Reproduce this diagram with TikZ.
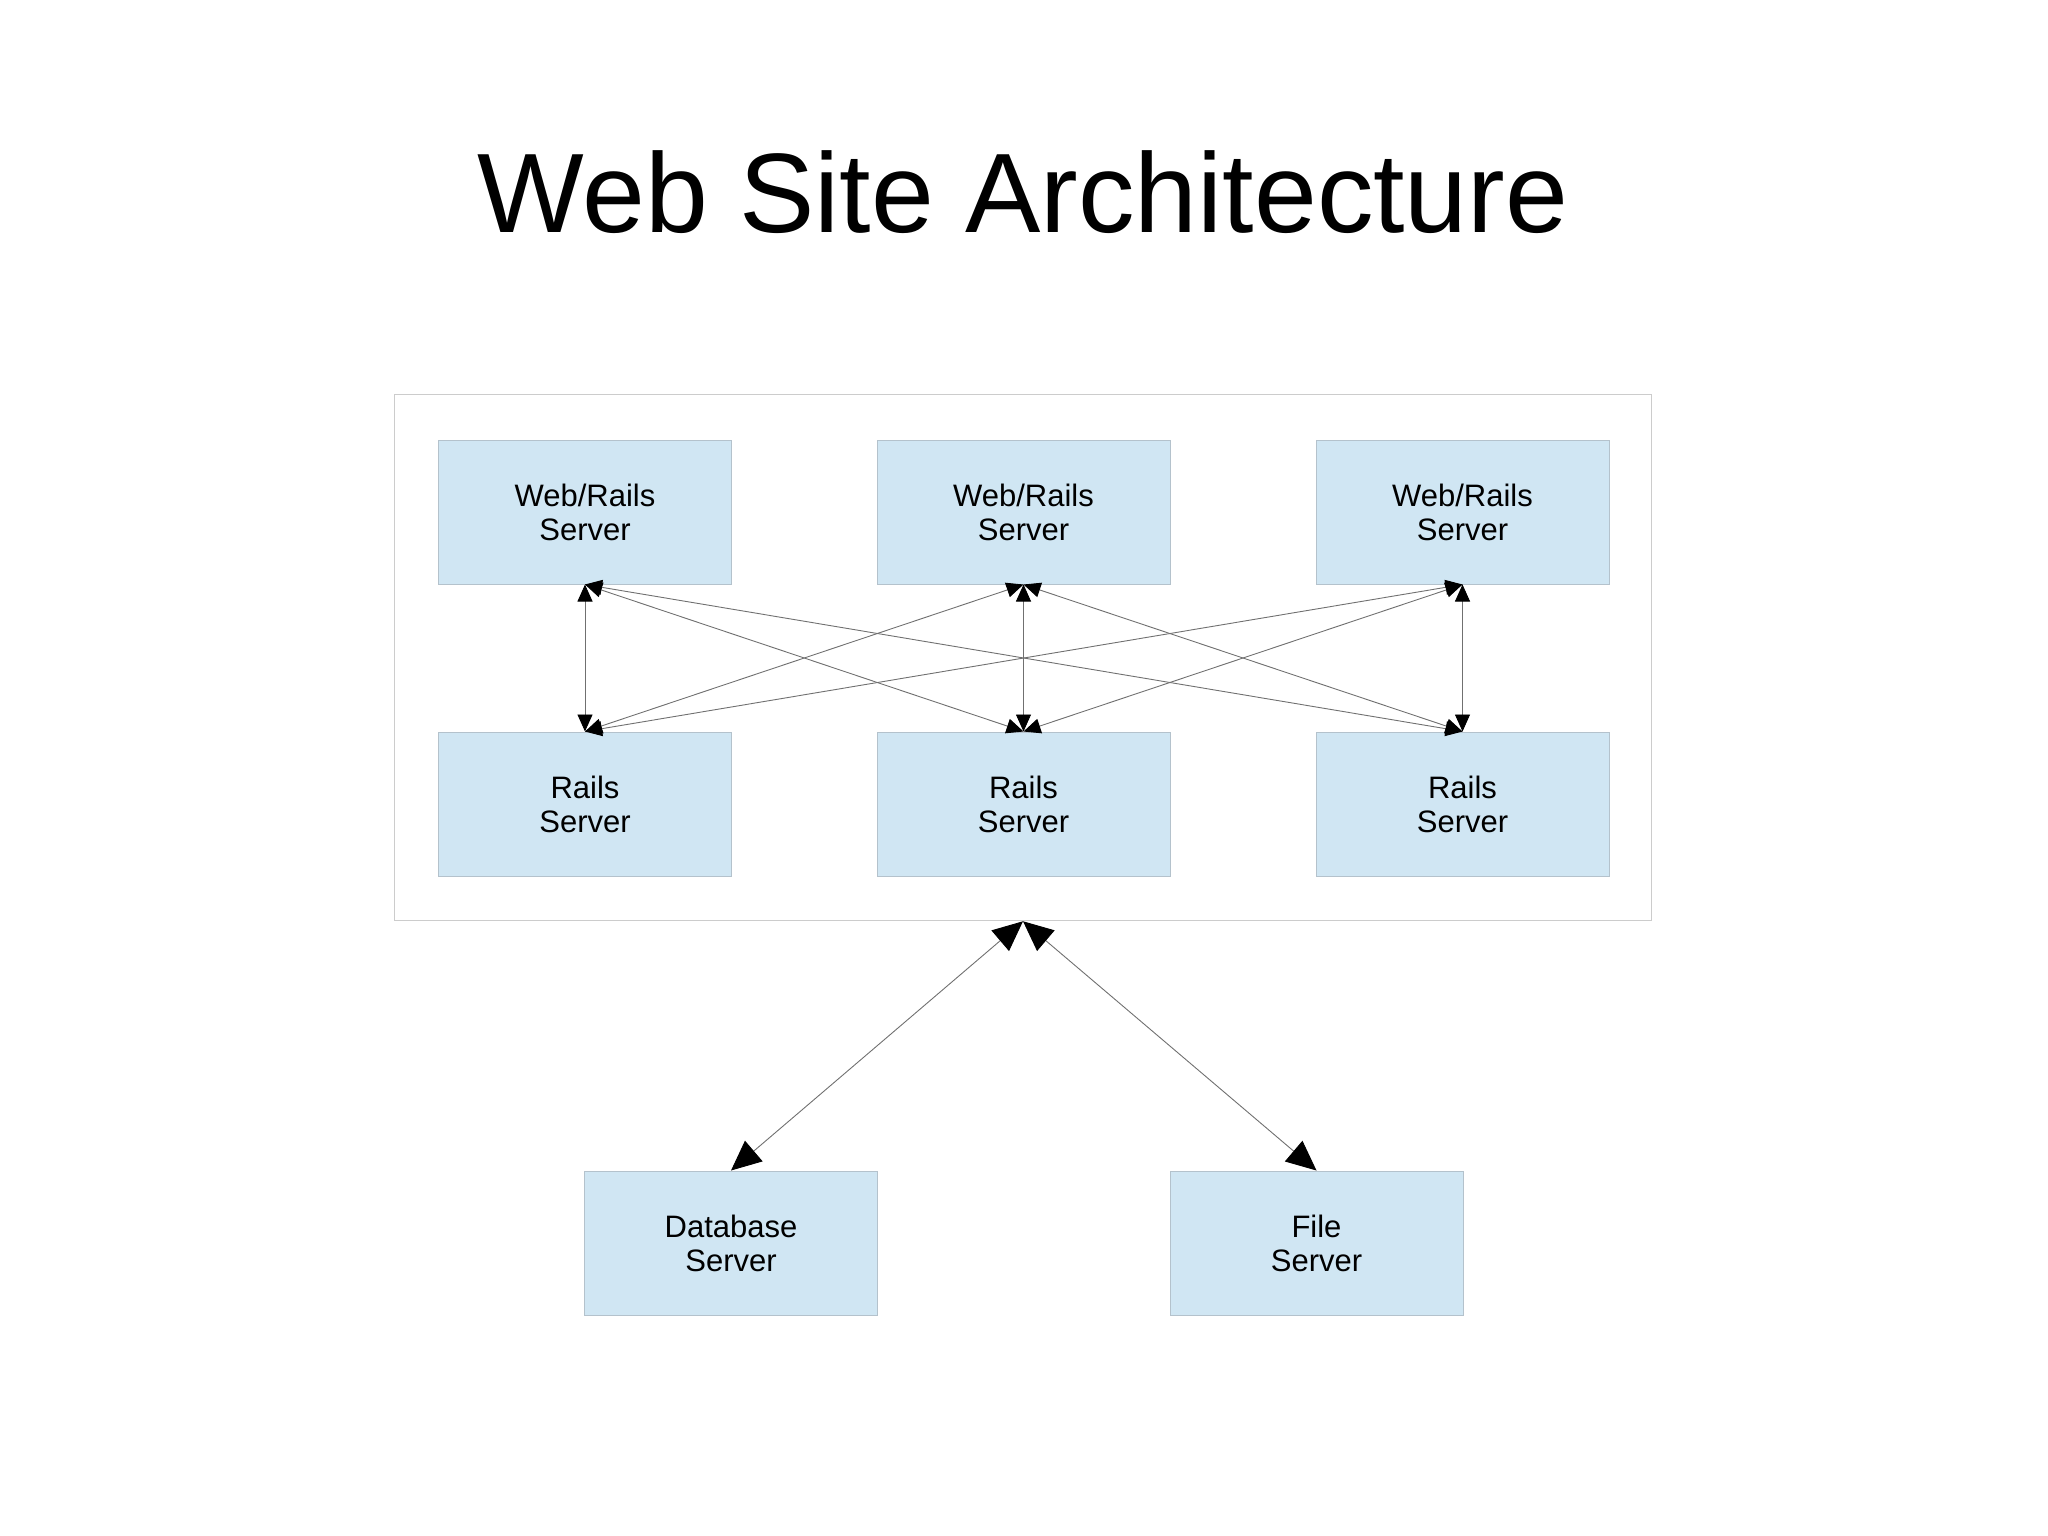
\documentclass[tikz,border=0pt]{standalone}
\usepackage{fontspec}
\setmainfont{Liberation Sans}
\usetikzlibrary{arrows.meta}
\definecolor{boxfill}{HTML}{D0E6F3}
\definecolor{boxline}{HTML}{B4C2CC}
\definecolor{farmline}{HTML}{CCCCCC}
\definecolor{linkgray}{HTML}{707070}
\begin{document}
\begin{tikzpicture}[x=1pt, y=-1pt,
        server/.style={rectangle, draw=boxline, line width=1pt, fill=boxfill, minimum width=293pt, minimum height=144pt, inner sep=0pt, align=center, font=\fontsize{31}{34}\selectfont},
        farm/.style={rectangle, draw=farmline, line width=1.5pt, minimum width=1257pt, minimum height=526pt, inner sep=0pt},
        link/.style={draw=linkgray, line width=0.9pt, {Triangle[color=black, length=17pt, width=15pt]}-{Triangle[color=black, length=17pt, width=15pt]}},
        biglink/.style={draw=linkgray, line width=0.9pt, {Triangle[color=black, length=30pt, width=27pt]}-{Triangle[color=black, length=30pt, width=27pt]}}]
        \useasboundingbox (0,0) rectangle (2048,1535);

        \node[font=\fontsize{113}{120}\selectfont, anchor=base] (title) at (1023,232) {Web Site Architecture};

        \node[farm] (cluster) at (1023,657.5) {};

        \node[server] (w1) at (585,512)    {Web/Rails\\Server};
        \node[server] (w2) at (1023.5,512) {Web/Rails\\Server};
        \node[server] (w3) at (1462.5,512) {Web/Rails\\Server};
        \node[server] (r1) at (585,804)    {Rails\\Server};
        \node[server] (r2) at (1023.5,804) {Rails\\Server};
        \node[server] (r3) at (1462.5,804) {Rails\\Server};

        \node[server] (db) at (731,1243)   {Database\\Server};
        \node[server] (fs) at (1316.5,1243) {File\\Server};

        \foreach \i in {1,2,3}
            \foreach \j in {1,2,3}
                \draw[link] (w\i.south)--(r\j.north);

        \draw[biglink] (cluster.south)--(db.north);
        \draw[biglink] (cluster.south)--(fs.north);
        \end{tikzpicture}
\end{document}
